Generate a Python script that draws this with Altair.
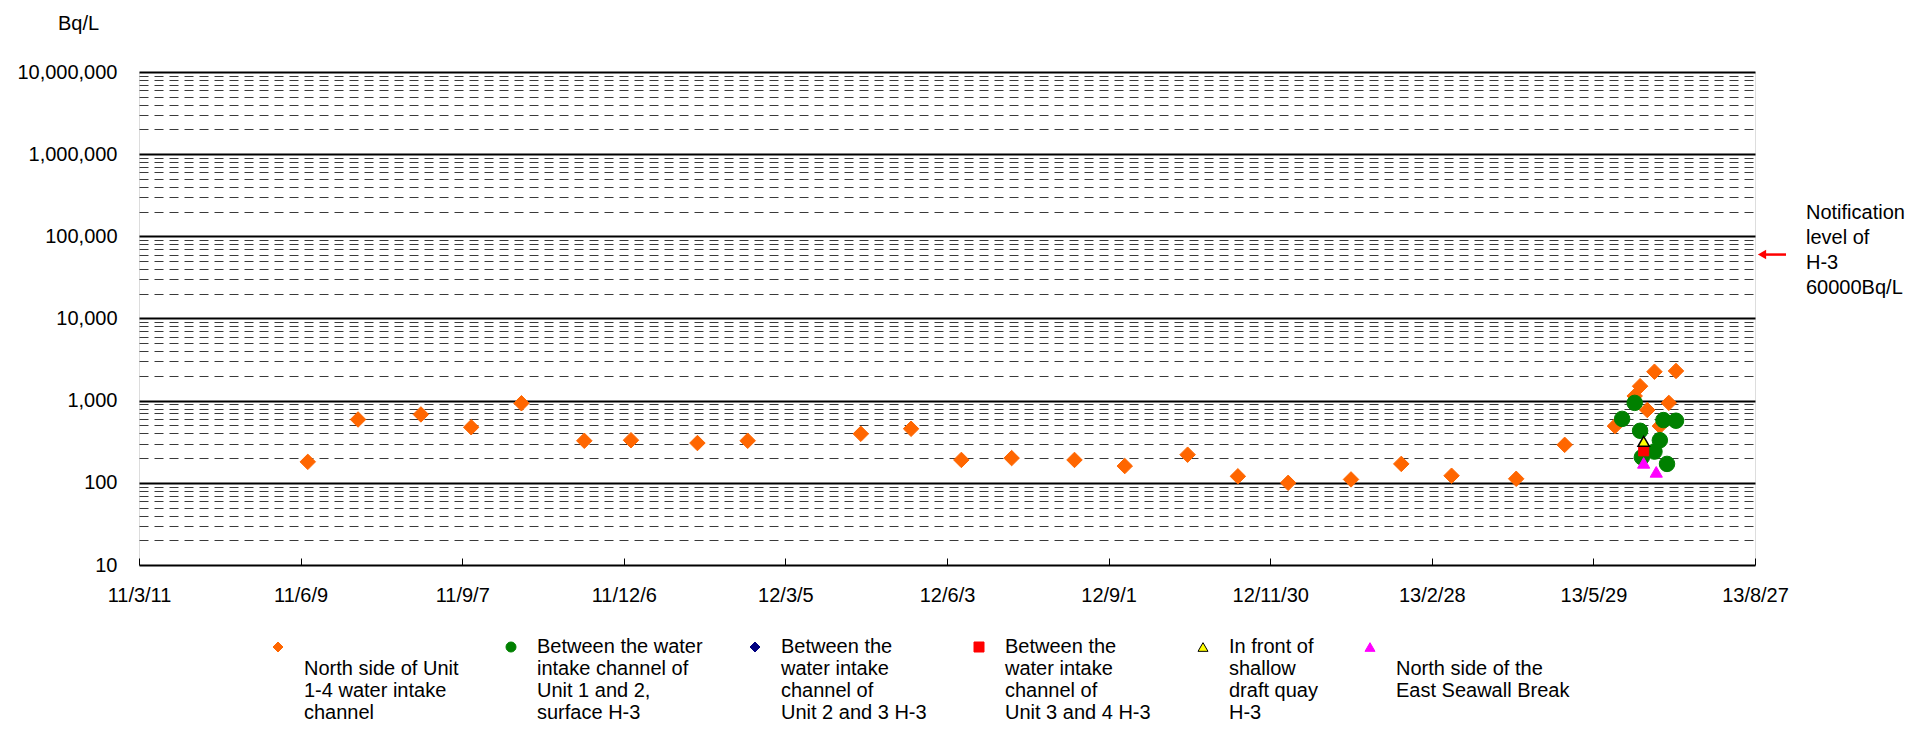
import altair as alt
import pandas as pd

# ---------------- data ----------------
series_names = [
    "North side of Unit 1-4 water intake channel",
    "Between the water intake channel of Unit 1 and 2, surface H-3",
    "Between the water intake channel of Unit 2 and 3 H-3",
    "Between the water intake channel of Unit 3 and 4 H-3",
    "In front of shallow draft quay H-3",
    "North side of the East Seawall Break",
]
# legend text lines ("" lines only shift the text vertically)
legend_lines = [
    ["", "North side of Unit", "1-4 water intake", "channel"],
    ["Between the water", "intake channel of", "Unit 1 and 2,", "surface H-3"],
    ["Between the", "water intake", "channel of", "Unit 2 and 3 H-3"],
    ["Between the", "water intake", "channel of", "Unit 3 and 4 H-3"],
    ["In front of", "shallow", "draft quay", "H-3"],
    ["", "North side of the", "East Seawall Break", ""],
]

north_dates = [
    "2011-06-13", "2011-07-11", "2011-08-15", "2011-09-12", "2011-10-10",
    "2011-11-14", "2011-12-10", "2012-01-16", "2012-02-13", "2012-04-16",
    "2012-05-14", "2012-06-11", "2012-07-09", "2012-08-13", "2012-09-10",
    "2012-10-15", "2012-11-12", "2012-12-10", "2013-01-14", "2013-02-11",
    "2013-03-11", "2013-04-16", "2013-05-13", "2013-06-10", "2013-06-21",
    "2013-06-24", "2013-06-28", "2013-07-02", "2013-07-05", "2013-07-10",
    "2013-07-14",
]
north_values = [
    180, 590, 680, 475, 930,
    325, 330, 305, 325, 395,
    455, 190, 200, 190, 160,
    220, 120, 100, 110, 170,
    122, 112, 290, 490, 1140,
    1500, 770, 2250, 490, 940,
    2300,
]

u12_dates = ["2013-06-14", "2013-06-21", "2013-06-24", "2013-06-25", "2013-07-02",
             "2013-07-05", "2013-07-07", "2013-07-09", "2013-07-14"]
u12_values = [600, 940, 430, 205, 240, 330, 580, 170, 570]

u23_dates = []
u23_values = []

u34_dates = ["2013-06-26"]
u34_values = [245]

quay_dates = ["2013-06-26"]
quay_values = [320]

seawall_dates = ["2013-06-26", "2013-07-03"]
seawall_values = [175, 136]

notification_level = [60000]
notification_text = ["Notification", "level of", "H-3", "60000Bq/L"]

xtick_dates = ["2011-03-11", "2011-06-09", "2011-09-07", "2011-12-06", "2012-03-05",
               "2012-06-03", "2012-09-01", "2012-11-30", "2013-02-28", "2013-05-29",
               "2013-08-27"]
ytick_major = [10, 100, 1000, 10000, 100000, 1000000, 10000000]

# ---------------- styles ----------------
fills = ["#FF6600", "#008000", "#000080", "#FF0000", "#FFFF00", "#FF00FF"]
strokes = ["#FF6600", "#008000", "#000080", "#FF0000", "#000000", "#FF00FF"]
shapes = ["diamond", "circle", "diamond", "square", "triangle-up", "triangle-up"]
sizes = [240, 240, 100, 100, 130, 150]
stroke_widths = [1, 1, 1, 1, 1.5, 1]

FONT = "Liberation Sans"
W, H = 1616, 493

rows = []
for name, ds, vs in [
    (series_names[0], north_dates, north_values),
    (series_names[1], u12_dates, u12_values),
    (series_names[2], u23_dates, u23_values),
    (series_names[3], u34_dates, u34_values),
    (series_names[4], quay_dates, quay_values),
    (series_names[5], seawall_dates, seawall_values),
]:
    for d, v in zip(ds, vs):
        rows.append({"date": d, "value": v, "series": name})
df = pd.DataFrame(rows)


def dt(s):
    y, m, d = (int(p) for p in s.split("-"))
    return alt.DateTime(year=y, month=m, date=d, utc=True)


def js_str(s):
    return "'" + s + "'"


def js_list(items):
    return "[" + ",".join(js_str(l) for l in items) + "]"


label_expr = "datum.label"
for name, lines in reversed(list(zip(series_names, legend_lines))):
    label_expr = f"datum.label == {js_str(name)} ? {js_list(lines)} : ({label_expr})"

# y axis ticks: majors + minors for grid
yvals = []
for k in range(1, 7):
    for m in range(1, 10):
        yvals.append(m * 10 ** k)
yvals.append(10 ** 7)
major_list = "[" + ",".join(str(v) for v in ytick_major) + "]"
is_major = f"indexof({major_list}, datum.value) >= 0"

legend = alt.Legend(
    title=None, orient="none", legendX=129, legendY=565,
    direction="horizontal", columns=6, labelExpr=label_expr,
    labelFontSize=20, labelFont=FONT, labelLimit=500, labelOffset=16,
    symbolSize=100, columnPadding=42, labelBaseline="middle",
    symbolStrokeWidth=1, labelColor="black",
)

x_enc = alt.X(
    "date:T",
    scale=alt.Scale(type="utc", domain=[dt(xtick_dates[0]), dt(xtick_dates[-1])]),
    axis=alt.Axis(
        values=[dt(s) for s in xtick_dates],
        labelExpr="utcFormat(datum.value, '%y/%-m/%-d')",
        title=None, grid=False, domain=False,
        ticks=True, tickSize=7, tickColor="black", tickWidth=1, offset=-7,
        labelPadding=20, labelFontSize=20, labelFont=FONT, labelColor="black",
        labelFlush=False, labelOverlap=False,
    ),
)

y_enc = alt.Y(
    "value:Q",
    scale=alt.Scale(type="log", domain=[10, 10000000]),
    axis=alt.Axis(
        values=yvals,
        labelExpr=f"{is_major} ? format(datum.value, ',') : ''",
        labelOverlap=False, labelFlush=False,
        ticks=False, domain=False, labelPadding=22,
        labelFontSize=20, labelFont=FONT, labelColor="black",
        grid=True,
        gridColor={"condition": {"test": is_major, "value": "#000000"}, "value": "#3a3a3a"},
        gridWidth={"condition": {"test": is_major, "value": 2}, "value": 1},
        gridDash={"condition": {"test": is_major, "value": []}, "value": [9, 6]},
        title="Bq/L", titleAngle=0, titleX=-61, titleY=-49, titleAlign="center",
        titleBaseline="middle", titleFontSize=20, titleFontWeight="normal",
        titleFont=FONT, titleColor="black",
    ),
)

base = alt.Chart(df).encode(
    x=x_enc,
    y=y_enc,
    fill=alt.Fill("series:N", scale=alt.Scale(domain=series_names, range=fills), legend=legend),
    stroke=alt.Stroke("series:N", scale=alt.Scale(domain=series_names, range=strokes), legend=legend),
    shape=alt.Shape("series:N", scale=alt.Scale(domain=series_names, range=shapes), legend=legend),
)

point_layers = [
    base.transform_filter(alt.datum.series == name).mark_point(
        filled=True, size=s, strokeWidth=sw, opacity=1
    )
    for name, s, sw in zip(series_names, sizes, stroke_widths)
]

note_df = pd.DataFrame({"level": notification_level, "text": ["\n".join(notification_text)]})

arrow = alt.Chart(note_df).mark_rule(color="#FF0000", strokeWidth=2.5).encode(
    y=alt.Y("level:Q"),
    x=alt.value(W + 8),
    x2=alt.value(W + 31),
)
head = alt.Chart(note_df).mark_point(shape="triangle-left", filled=True, color="#FF0000",
                                     size=90, opacity=1).encode(
    y=alt.Y("level:Q"),
    x=alt.value(W + 7),
)
note = alt.Chart(note_df).mark_text(
    align="left", baseline="middle", fontSize=20, font=FONT, lineBreak="\n",
    lineHeight=25, color="black", dy=-42,
).encode(
    y=alt.Y("level:Q"),
    x=alt.value(W + 51),
    text="text:N",
)

chart = alt.layer(*point_layers, arrow, head, note).properties(
    width=W, height=H,
    padding={"left": 139, "top": 72, "right": 162, "bottom": 172},
    autosize=alt.AutoSizeParams(type="none"),
).configure_view(
    stroke="black", strokeWidth=3,
).configure(
    font=FONT, background="white",
)

chart.save("out.html", embed_options={"renderer": "svg", "actions": False})
